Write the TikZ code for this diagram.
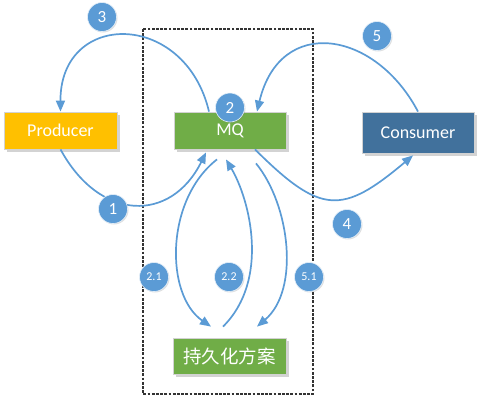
\documentclass[tikz,border=0pt]{standalone}
\usepackage{fontspec}
\setmainfont{Carlito}
\newfontfamily\cjk{Noto Sans CJK SC}
\usetikzlibrary{arrows.meta,shadows,calc}
\definecolor{cprod}{HTML}{FFC000}
\definecolor{cmq}{HTML}{70AD47}
\definecolor{ccons}{HTML}{41719C}
\definecolor{cblue}{HTML}{5B9BD5}
\definecolor{cdash}{HTML}{333333}
\tikzset{
  box/.style={draw=gray!35, line width=0.8pt, text=white, font=\fontsize{18}{20}\selectfont,
    inner sep=0pt, drop shadow={shadow xshift=2.5pt, shadow yshift=-2.5pt, opacity=0.35, fill=gray}},
  badge/.style={circle, fill=cblue, draw=white!85!cblue, line width=0.6pt, text=white,
    minimum size=29pt, inner sep=0pt, font=\fontsize{17}{19}\selectfont,
    drop shadow={shadow xshift=1pt, shadow yshift=-1pt, opacity=0.25, fill=gray}},
  smallbadge/.style={badge, font=\fontsize{12}{14}\selectfont},
  flow/.style={draw=cblue, line width=1.7pt, -{Triangle[length=11pt,width=9pt]}},
  dashbox/.style={draw=cdash, line width=1.7pt, dash pattern=on 2.8pt off 1.4pt}
}
\begin{document}
\begin{tikzpicture}[x=1pt,y=-1pt]
\useasboundingbox (0,0) rectangle (484,402);
\draw[dashbox] (143,29) rectangle (313,394);
\node[box, fill=cprod, minimum width=113pt, minimum height=37pt] (prod) at (60.5,130.5) {Producer};
\node[box, fill=cmq, minimum width=112pt, minimum height=37pt] (mq) at (230,130.5) {MQ};
\node[box, fill=ccons, minimum width=112pt, minimum height=41pt] (cons) at (418,132.5) {Consumer};
\node[box, fill=cmq, minimum width=113pt, minimum height=36pt, font=\cjk\fontsize{18.5}{20}\selectfont] (pers) at (229.5,356) {持久化方案};
% connectors
\draw[flow] (prod.south) .. controls (100,222) and (171,223) .. ([xshift=-24pt,yshift=-3pt]mq.south);
\draw[flow] ([xshift=-21pt]mq.north) .. controls (185,10) and (60,10) .. (prod.north);
\draw[flow] (cons.north) .. controls (375,30) and (280,15) .. ([xshift=27pt]mq.north);
\draw[flow] ([xshift=25pt]mq.south) .. controls (321,215) and (342,215) .. ([xshift=-5pt,yshift=-2pt]cons.south);
\draw[flow] ([xshift=-13pt,yshift=-10pt]mq.south) .. controls (165,200) and (165,295) .. ([xshift=-18.5pt,yshift=11pt]pers.north);
\draw[flow] ([xshift=-6.5pt,yshift=11pt]pers.north) .. controls (270,280) and (250,200) .. ([xshift=-4pt,yshift=-10pt]mq.south);
\draw[flow] ([xshift=26pt,yshift=-14pt]mq.south) .. controls (290,205) and (300,290) .. ([xshift=27.5pt,yshift=11pt]pers.north);
% badges
\node[badge] (b1) at (113,209) {1};
\node[badge] (b2) at (230,107.5) {2};
\node[badge] (b3) at (102,17) {3};
\node[badge] (b4) at (347,224) {4};
\node[badge] (b5) at (377,36) {5};
\node[smallbadge] (b21) at (154,277) {2.1};
\node[smallbadge] (b22) at (229,277) {2.2};
\node[smallbadge] (b51) at (309,277) {5.1};
\end{tikzpicture}
\end{document}
